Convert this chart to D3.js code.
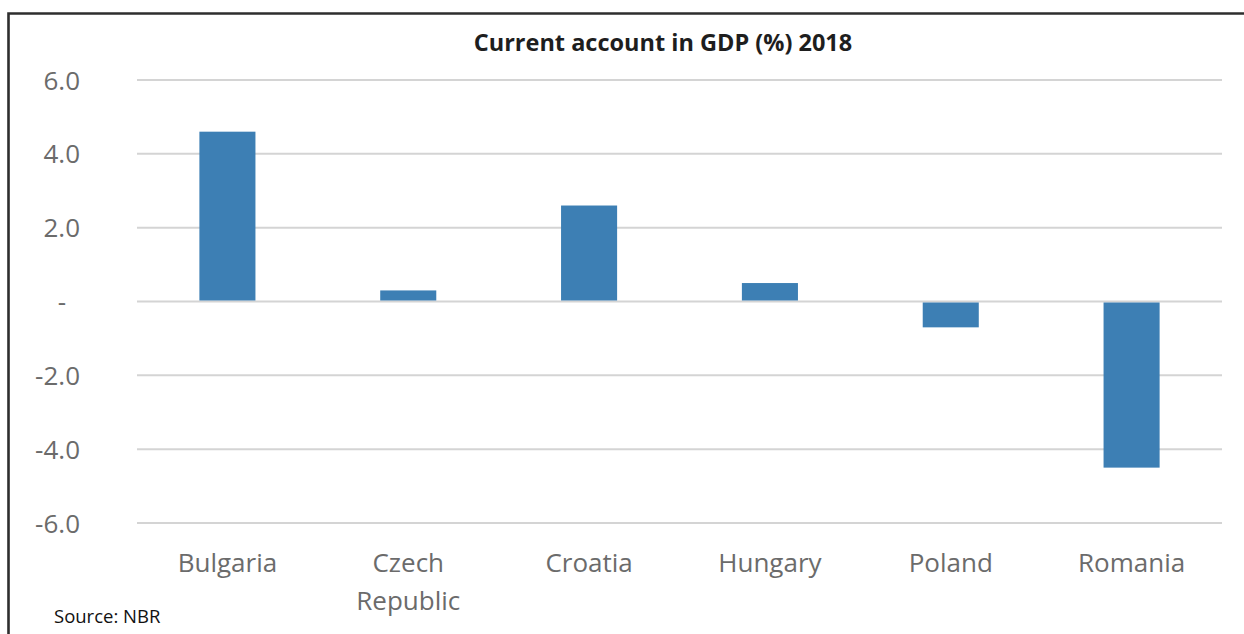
<!DOCTYPE html>
<html>
<head>
<meta charset="utf-8">
<script src="https://cdn.jsdelivr.net/npm/d3@7"></script>
<style>
  html, body { margin: 0; padding: 0; background: #fff; }
  svg { display: block; }
</style>
</head>
<body>
<svg id="chart" width="1244" height="634"></svg>
<script>
// Current account balance as a share of GDP, 2018
const countries = ["Bulgaria", "Czech Republic", "Croatia", "Hungary", "Poland", "Romania"];
const values = [4.6, 0.3, 2.6, 0.5, -0.7, -4.5];
const yTicks = [-6, -4, -2, 0, 2, 4, 6];
const title = "Current account in GDP (%) 2018";
const source = "Source: NBR";

const svg = d3.select("#chart");
const font = "'Open Sans', 'Noto Sans', sans-serif";

// frame around the figure
svg.append("path")
  .attr("d", "M8.5,640 L8.5,13.5 L1250,13.5")
  .attr("fill", "none")
  .attr("stroke", "#2e2e2e")
  .attr("stroke-width", 2.6);

const plot = { left: 137, right: 1222, top: 80, bottom: 523 };

const x = d3.scaleBand()
  .domain(countries)
  .range([plot.left, plot.right])
  .paddingInner(0.69)
  .paddingOuter(0.345);

const y = d3.scaleLinear()
  .domain([-6, 6])
  .range([plot.bottom, plot.top]);

// gridlines
svg.append("g")
  .selectAll("line")
  .data(yTicks)
  .join("line")
  .attr("x1", plot.left)
  .attr("x2", plot.right)
  .attr("y1", d => y(d))
  .attr("y2", d => y(d))
  .attr("stroke", "#d4d4d4")
  .attr("stroke-width", 2);

// y axis labels
const fmt = v => v === 0 ? "-" : (v < 0 ? "-" : "") + Math.abs(v).toFixed(1);
const yAxis = d3.axisLeft(y)
  .tickValues(yTicks)
  .tickFormat(fmt)
  .tickSize(0)
  .tickPadding(0);

const gy = svg.append("g")
  .attr("transform", "translate(80,0)")
  .call(yAxis);
gy.select(".domain").remove();
gy.selectAll("text")
  .attr("fill", "#6b6b6b")
  .style("font-family", font)
  .style("font-size", "26px")
  .attr("dy", "0.35em")
  .attr("x", d => d === 0 ? -14 : 0);

// bars
svg.append("g")
  .selectAll("rect")
  .data(values)
  .join("rect")
  .attr("x", (d, i) => x(countries[i]))
  .attr("width", x.bandwidth())
  .attr("y", d => d >= 0 ? y(d) : y(0) + 1)
  .attr("height", d => d >= 0 ? y(0) - 1 - y(d) : y(d) - y(0) - 1)
  .attr("fill", "#3d7fb4");

// category labels (wrapped onto two lines where needed)
const xAxis = d3.axisBottom(x).tickSize(0).tickPadding(0);
const gx = svg.append("g")
  .attr("transform", "translate(0,563)")
  .call(xAxis);
gx.select(".domain").remove();
gx.selectAll("text")
  .attr("fill", "#6b6b6b")
  .attr("y", 0)
  .attr("dy", "0.35em")
  .style("font-family", font)
  .style("font-size", "26px")
  .each(function (d) {
    const words = d.split(" ");
    const t = d3.select(this).text(null);
    words.forEach((w, i) => {
      t.append("tspan")
        .attr("x", 0)
        .attr("dy", i === 0 ? "0.35em" : "38px")
        .text(w);
    });
  });

// title
svg.append("text")
  .attr("x", 663)
  .attr("y", 51)
  .attr("text-anchor", "middle")
  .attr("fill", "#1e1e1e")
  .style("font-family", font)
  .style("font-weight", "bold")
  .style("font-size", "23.5px")
  .text(title);

// source note
svg.append("text")
  .attr("x", 54)
  .attr("y", 623)
  .attr("fill", "#111")
  .style("font-family", font)
  .style("font-size", "18.5px")
  .text(source);
</script>
</body>
</html>
